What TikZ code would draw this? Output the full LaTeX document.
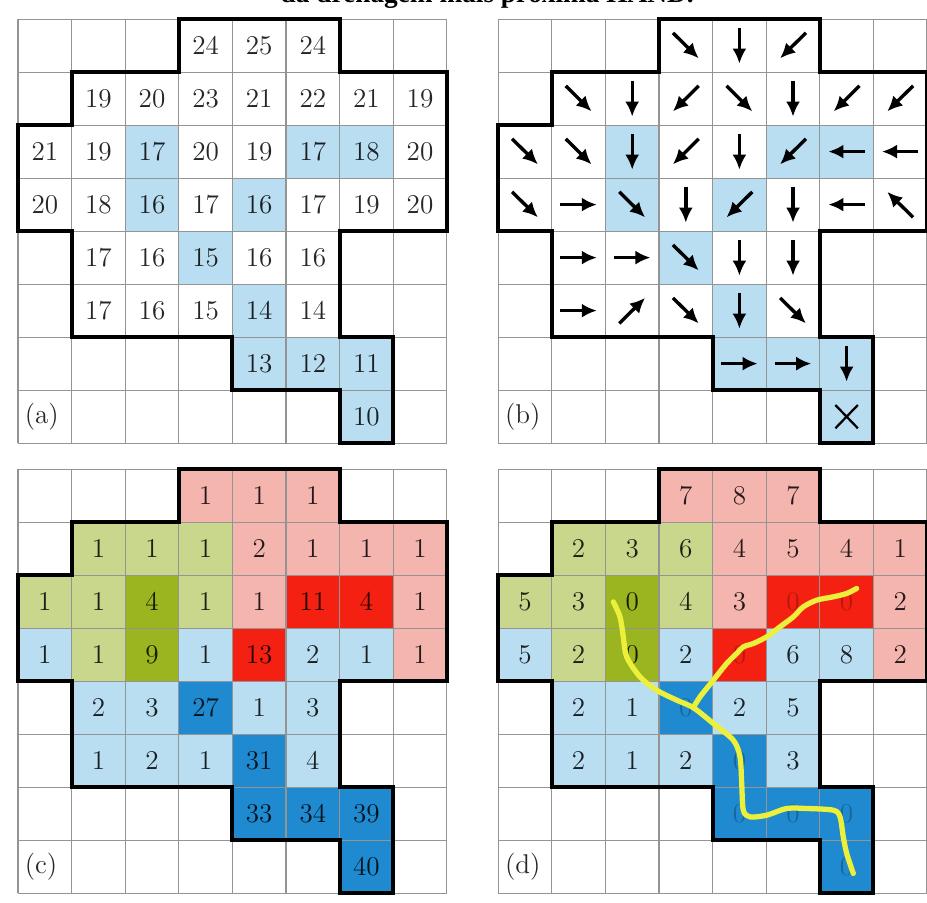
\documentclass[tikz,border=0pt]{standalone}
\usepackage{fontspec}
\newfontfamily\captionserif{Liberation Serif}
\usepackage{xcolor}
\usepackage{tikz}
\usetikzlibrary{arrows.meta,calc}
\definecolor{gridgray}{HTML}{949494}
\definecolor{riverblue}{HTML}{B9DDF1}
\definecolor{deepblue}{HTML}{1F8AD0}
\definecolor{rosepale}{HTML}{F5B5AF}
\definecolor{rosedeep}{HTML}{F42112}
\definecolor{olivepale}{HTML}{C8D78C}
\definecolor{olivedeep}{HTML}{9AB51F}
\definecolor{trace}{HTML}{EDF03A}

\newcommand{\basinoutline}{(3,0) -- (6,0) -- (6,-1) -- (8,-1) -- (8,-4) -- (6,-4) -- (6,-6) -- (7,-6) -- (7,-8) -- (6,-8) -- (6,-7) -- (4,-7) -- (4,-6) -- (1,-6) -- (1,-4) -- (0,-4) -- (0,-2) -- (1,-2) -- (1,-1) -- (3,-1) -- cycle}
\newcommand{\cellgrid}{\foreach \k in {0,...,8} {\draw[gridline] (\k,0) -- (\k,-8); \draw[gridline] (0,-\k) -- (8,-\k);}}
\newcommand{\streamcells}{2/2,3/2,2/5,2/6,3/4,4/3,5/4,6/4,6/5,6/6,7/6}
\newcommand{\catchcells}{0/3/rosepale,0/4/rosepale,0/5/rosepale,1/4/rosepale,1/5/rosepale,1/6/rosepale,1/7/rosepale,2/4/rosepale,2/7/rosepale,3/7/rosepale,
 2/5/rosedeep,2/6/rosedeep,3/4/rosedeep,
 1/1/olivepale,1/2/olivepale,1/3/olivepale,2/0/olivepale,2/1/olivepale,2/3/olivepale,3/1/olivepale,
 2/2/olivedeep,3/2/olivedeep,
 3/0/riverblue,3/3/riverblue,3/5/riverblue,3/6/riverblue,4/1/riverblue,4/2/riverblue,4/4/riverblue,4/5/riverblue,5/1/riverblue,5/2/riverblue,5/3/riverblue,5/5/riverblue,
 4/3/deepblue,5/4/deepblue,6/4/deepblue,6/5/deepblue,6/6/deepblue,7/6/deepblue}

\begin{document}
\begin{tikzpicture}[x=1cm,y=0.989cm,>=Latex,
 cell/.style={inner sep=0pt,font=\Large,text=black,text opacity=0.85},
 dim/.style={cell,text opacity=0.25},
 tag/.style={inner sep=0pt,anchor=west,font=\Large,text=black!85},
 gridline/.style={draw=gridgray,line width=0.6pt},
 basin/.style={draw=black,line width=2.1pt,line join=miter},
 flow/.style={line width=1.8pt,-{Latex[length=8pt,width=7.5pt]}},
 outlet/.style={line width=1.2pt},
 river/.style={draw=trace,line width=2.8pt,line cap=round,line join=round}]
 \useasboundingbox (0,0) rectangle (17.295,17.02);
 \fill[white] (0,0) rectangle (17.295,17.02);
 \node[font={\captionserif\bfseries\fontsize{14.5}{17}\selectfont},anchor=base] (title) at (9.09,16.98) {da drenagem mais próxima HAND.};

 \begin{scope}[shift={(0.336,16.66)}]
 \foreach \r/\c in \streamcells {\fill[riverblue] (\c,-\r) rectangle ++(1,-1);}
 \cellgrid
 \draw[basin] \basinoutline;
 \foreach \r/\c/\v in {0/3/24,0/4/25,0/5/24,
 1/1/19,1/2/20,1/3/23,1/4/21,1/5/22,1/6/21,1/7/19,
 2/0/21,2/1/19,2/2/17,2/3/20,2/4/19,2/5/17,2/6/18,2/7/20,
 3/0/20,3/1/18,3/2/16,3/3/17,3/4/16,3/5/17,3/6/19,3/7/20,
 4/1/17,4/2/16,4/3/15,4/4/16,4/5/16,
 5/1/17,5/2/16,5/3/15,5/4/14,5/5/14,
 6/4/13,6/5/12,6/6/11,
 7/6/10}
 {\node[cell] (a-\r-\c) at (\c+0.5,-\r-0.5) {\v};}
 \node[tag] (a-tag) at (0.12,-7.5) {(a)};
 \end{scope}

 \begin{scope}[shift={(9.295,16.66)}]
 \foreach \r/\c in \streamcells {\fill[riverblue] (\c,-\r) rectangle ++(1,-1);}
 \cellgrid
 \draw[basin] \basinoutline;
 \foreach \r/\c/\a in {0/3/-45,0/4/-90,0/5/-135,
 1/1/-45,1/2/-90,1/3/-135,1/4/-45,1/5/-90,1/6/-135,1/7/-135,
 2/0/-45,2/1/-45,2/2/-90,2/3/-135,2/4/-90,2/5/-135,2/6/180,2/7/180,
 3/0/-45,3/1/0,3/2/-45,3/3/-90,3/4/-135,3/5/-90,3/6/180,3/7/135,
 4/1/0,4/2/0,4/3/-45,4/4/-90,4/5/-90,
 5/1/0,5/2/45,5/3/-45,5/4/-90,5/5/-45,
 6/4/0,6/5/0,6/6/-90}
 {\draw[flow] (\c+0.5,-\r-0.5) ++({\a+180}:0.34) -- ++(\a:0.68);}
 \coordinate (outlet) at (6.5,-7.5);
 \draw[outlet] ($(outlet)+(-0.21,-0.22)$) -- ($(outlet)+(0.21,0.22)$)
 ($(outlet)+(-0.21,0.22)$) -- ($(outlet)+(0.21,-0.22)$);
 \node[tag] (b-tag) at (0.12,-7.5) {(b)};
 \end{scope}

 \begin{scope}[shift={(0.336,8.17)}]
 \foreach \r/\c/\f in \catchcells {\fill[\f] (\c,-\r) rectangle ++(1,-1);}
 \cellgrid
 \draw[basin] \basinoutline;
 \foreach \r/\c/\v in {0/3/1,0/4/1,0/5/1,
 1/1/1,1/2/1,1/3/1,1/4/2,1/5/1,1/6/1,1/7/1,
 2/0/1,2/1/1,2/2/4,2/3/1,2/4/1,2/5/11,2/6/4,2/7/1,
 3/0/1,3/1/1,3/2/9,3/3/1,3/4/13,3/5/2,3/6/1,3/7/1,
 4/1/2,4/2/3,4/3/27,4/4/1,4/5/3,
 5/1/1,5/2/2,5/3/1,5/4/31,5/5/4,
 6/4/33,6/5/34,6/6/39,
 7/6/40}
 {\node[cell] (c-\r-\c) at (\c+0.5,-\r-0.5) {\v};}
 \node[tag] (c-tag) at (0.12,-7.5) {(c)};
 \end{scope}

 \begin{scope}[shift={(9.295,8.17)}]
 \foreach \r/\c/\f in \catchcells {\fill[\f] (\c,-\r) rectangle ++(1,-1);}
 \cellgrid
 \draw[basin] \basinoutline;
 \foreach \r/\c/\v/\s in {0/3/7/cell,0/4/8/cell,0/5/7/cell,
 1/1/2/cell,1/2/3/cell,1/3/6/cell,1/4/4/cell,1/5/5/cell,1/6/4/cell,1/7/1/cell,
 2/0/5/cell,2/1/3/cell,2/2/0/cell,2/3/4/cell,2/4/3/cell,2/5/0/dim,2/6/0/dim,2/7/2/cell,
 3/0/5/cell,3/1/2/cell,3/2/0/cell,3/3/2/cell,3/4/0/dim,3/5/6/cell,3/6/8/cell,3/7/2/cell,
 4/1/2/cell,4/2/1/cell,4/3/0/dim,4/4/2/cell,4/5/5/cell,
 5/1/2/cell,5/2/1/cell,5/3/2/cell,5/4/0/dim,5/5/3/cell,
 6/4/0/dim,6/5/0/dim,6/6/0/dim,
 7/6/0/dim}
 {\node[\s] (d-\r-\c) at (\c+0.5,-\r-0.5) {\v};}
 \node[tag] (d-tag) at (0.12,-7.5) {(d)};
 \coordinate (confluence) at (3.64,-4.50);
 \draw[river] plot[smooth] coordinates {(2.147,-2.504) (2.272,-2.787) (2.334,-3.164) (2.397,-3.542) (2.646,-3.919) (2.957,-4.170) (3.330,-4.358) (confluence) (4.013,-4.798) (4.386,-5.113) (4.511,-5.428) (4.543,-5.930) (4.573,-6.434) (4.698,-6.560) (5.009,-6.528) (5.382,-6.402) (5.756,-6.402) (6.252,-6.434) (6.377,-6.560) (6.438,-6.938) (6.502,-7.251) (6.625,-7.628)};
 \draw[river] plot[smooth] coordinates {(confluence) (3.765,-4.296) (4.013,-3.981) (4.263,-3.666) (4.450,-3.477) (4.573,-3.353) (4.759,-3.289) (5.009,-3.164) (5.257,-2.975) (5.506,-2.787) (5.692,-2.598) (5.942,-2.472) (6.252,-2.409) (6.502,-2.345) (6.688,-2.251)};
 \end{scope}
\end{tikzpicture}
\end{document}
